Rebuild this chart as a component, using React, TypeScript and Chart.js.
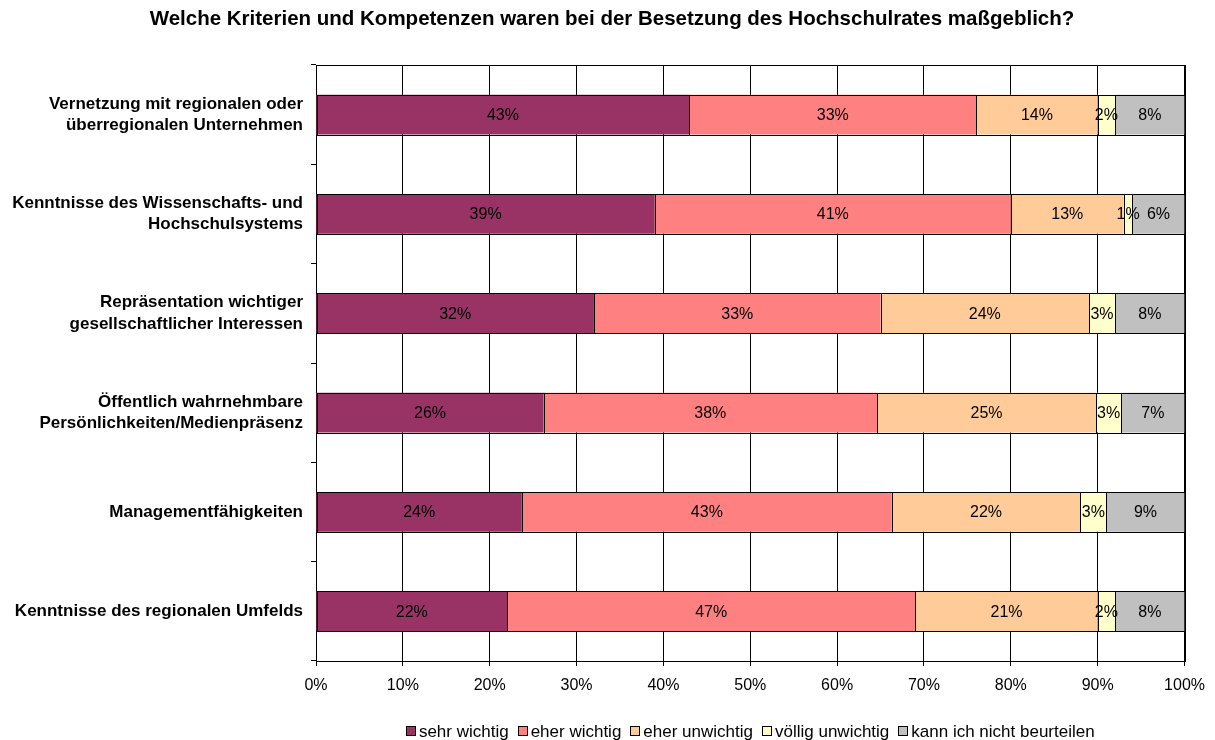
import React, { useEffect, useRef } from "react";
import { Chart, registerables } from "chart.js";

Chart.register(...registerables);

const TITLE = "Welche Kriterien und Kompetenzen waren bei der Besetzung des Hochschulrates maßgeblich?";

const categories: string[][] = [
  ["Vernetzung mit regionalen oder", "überregionalen Unternehmen"],
  ["Kenntnisse des Wissenschafts- und", "Hochschulsystems"],
  ["Repräsentation wichtiger", "gesellschaftlicher Interessen"],
  ["Öffentlich wahrnehmbare", "Persönlichkeiten/Medienpräsenz"],
  ["Managementfähigkeiten"],
  ["Kenntnisse des regionalen Umfelds"],
];

const seriesNames = ["sehr wichtig", "eher wichtig", "eher unwichtig", "völlig unwichtig", "kann ich nicht beurteilen"];
const seriesColors = ["#993366", "#FF8080", "#FFCC99", "#FFFFCC", "#C0C0C0"];

const sehrWichtig = [43, 39, 32, 26.2, 23.7, 22];
const eherWichtig = [33, 41, 33, 38.4, 42.6, 47];
const eherUnwichtig = [14, 13, 24, 25.2, 21.7, 21];
const voelligUnwichtig = [2, 1, 3, 2.9, 3.0, 2];
const kannNicht = [8, 6, 8, 7.3, 9.0, 8];

const xTicks = [0, 10, 20, 30, 40, 50, 60, 70, 80, 90, 100];

const FONT = "'Liberation Sans', Arial, sans-serif";

const titlePlugin = {
  id: "customTitle",
  afterDraw(chart: any) {
    const { ctx } = chart;
    ctx.save();
    ctx.font = `bold 20.5px ${FONT}`;
    ctx.fillStyle = "#000";
    ctx.textAlign = "center";
    ctx.textBaseline = "middle";
    ctx.fillText(TITLE, 612, 19);
    ctx.restore();
  },
};

const plotBorder = {
  id: "plotBorder",
  beforeDatasetsDraw(chart: any) {
    const { ctx, chartArea } = chart;
    ctx.save();
    ctx.strokeStyle = "#000";
    ctx.lineWidth = 1;
    ctx.strokeRect(
      Math.round(chartArea.left) + 0.5,
      Math.round(chartArea.top) + 0.5,
      Math.round(chartArea.right) - Math.round(chartArea.left),
      Math.round(chartArea.bottom) - Math.round(chartArea.top)
    );
    ctx.restore();
  },
};

const barBorders = {
  id: "barBorders",
  afterDatasetsDraw(chart: any) {
    const { ctx } = chart;
    ctx.save();
    ctx.strokeStyle = "#000";
    ctx.lineWidth = 1;
    chart.data.datasets.forEach((_ds: any, di: number) => {
      const meta = chart.getDatasetMeta(di);
      meta.data.forEach((el: any) => {
        const x0 = Math.round(Math.min(el.base, el.x));
        const x1 = Math.round(Math.max(el.base, el.x));
        const y0 = Math.round(el.y - el.height / 2);
        const y1 = Math.round(el.y + el.height / 2);
        ctx.strokeRect(x0 + 0.5, y0 + 0.5, x1 - x0, y1 - y0);
      });
    });
    ctx.restore();
  },
};

const valueLabels = {
  id: "valueLabels",
  afterDatasetsDraw(chart: any) {
    const { ctx } = chart;
    ctx.save();
    ctx.font = `16px ${FONT}`;
    ctx.fillStyle = "#000";
    ctx.textAlign = "center";
    ctx.textBaseline = "middle";
    chart.data.datasets.forEach((ds: any, di: number) => {
      const meta = chart.getDatasetMeta(di);
      meta.data.forEach((el: any, i: number) => {
        const v = ds.data[i];
        const cx = (el.x + el.base) / 2;
        ctx.fillText(Math.round(v) + "%", cx, el.y + 1);
      });
    });
    ctx.restore();
  },
};

const customLegend = {
  id: "customLegend",
  afterDraw(chart: any) {
    const { ctx, chartArea } = chart;
    const box = 10;
    const gap = 3;
    const spacing = 9;
    ctx.save();
    ctx.font = `17px ${FONT}`;
    const widths = chart.data.datasets.map((ds: any) => ctx.measureText(ds.label).width);
    const total = widths.reduce((a: number, w: number) => a + box + gap + w, 0) + spacing * (widths.length - 1);
    let x = (chartArea.left + chartArea.right) / 2 - total / 2;
    const y = 731;
    ctx.textBaseline = "middle";
    ctx.textAlign = "left";
    chart.data.datasets.forEach((ds: any, i: number) => {
      ctx.fillStyle = ds.backgroundColor;
      ctx.fillRect(Math.round(x), Math.round(y - box / 2), box, box);
      ctx.strokeStyle = "#000";
      ctx.lineWidth = 1;
      ctx.strokeRect(Math.round(x) + 0.5, Math.round(y - box / 2) + 0.5, box - 1, box - 1);
      ctx.fillStyle = "#000";
      ctx.fillText(ds.label, x + box + gap, y + 1);
      x += box + gap + widths[i] + spacing;
    });
    ctx.restore();
  },
};

export default function App() {
  const ref = useRef<HTMLCanvasElement>(null);
  useEffect(() => {
    if (!ref.current) return;
    const allSeries = [sehrWichtig, eherWichtig, eherUnwichtig, voelligUnwichtig, kannNicht];
    const chart = new Chart(ref.current, {
      type: "bar",
      data: {
        labels: categories,
        datasets: allSeries.map((d, i) => ({
          label: seriesNames[i],
          data: d,
          backgroundColor: seriesColors[i],
          borderWidth: 0,
          categoryPercentage: 0.4,
          barPercentage: 1,
        })),
      },
      options: {
        indexAxis: "y",
        responsive: false,
        animation: false,
        layout: { padding: { left: 0, right: 30, top: 65, bottom: 35 } },
        plugins: {
          legend: { display: false },
          tooltip: { enabled: false },
          title: { display: false },
        },
        scales: {
          x: {
            stacked: true,
            min: 0,
            max: 100,
            afterBuildTicks(scale: any) {
              scale.ticks = xTicks.map((v) => ({ value: v }));
            },
            afterFit(scale: any) {
              scale.height = 44;
            },
            ticks: {
              color: "#000",
              font: { family: FONT, size: 16 },
              padding: 10,
              maxRotation: 0,
              callback: (v: any) => v + "%",
            },
            grid: { color: "#000", lineWidth: 1, tickLength: 5, drawOnChartArea: true },
            border: { display: true, color: "#000", width: 1 },
          },
          y: {
            stacked: true,
            afterFit(scale: any) {
              scale.width = 316;
            },
            ticks: {
              color: "#000",
              font: { family: FONT, size: 17, weight: "bold", lineHeight: 1.24 },
              padding: 8,
            },
            grid: { color: "#000", drawOnChartArea: false, drawTicks: true, tickLength: 5, offset: true },
            border: { display: true, color: "#000", width: 1 },
          },
        },
      },
      plugins: [plotBorder, barBorders, valueLabels, customLegend, titlePlugin],
    });
    return () => chart.destroy();
  }, []);
  return (
    <div style={{ position: "fixed", left: 0, top: 0, width: 1215, height: 740, background: "#fff" }}>
      <canvas ref={ref} width={1215} height={740} />
    </div>
  );
}
